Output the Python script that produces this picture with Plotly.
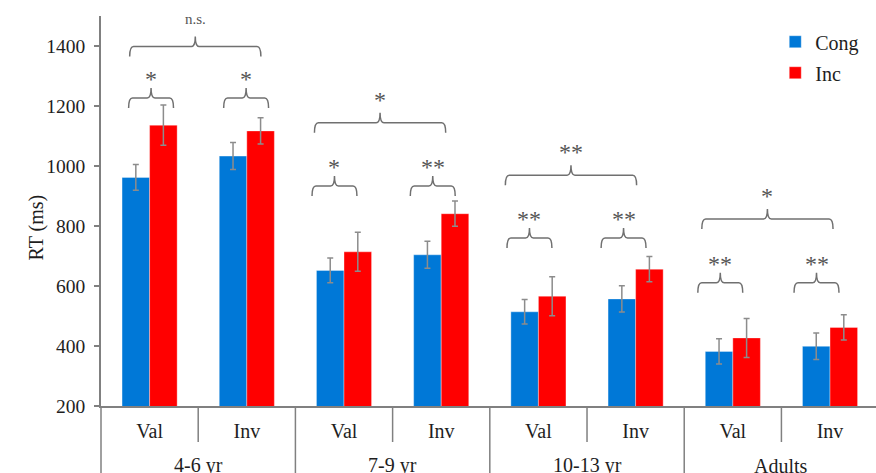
import plotly.graph_objects as go

# ---------------- data ----------------
groups = ["4-6 yr", "7-9 yr", "10-13 yr", "Adults"]
conditions = ["Val", "Inv"]
cong = [962, 1033, 652, 704, 514, 557, 382, 399]
inc = [1136, 1117, 714, 841, 566, 656, 427, 462]
cong_err = [43, 45, 41, 45, 41, 44, 42, 44]
inc_err = [67, 44, 65, 42, 65, 42, 65, 42]
pair_sig = ["*", "*", "*", "**", "**", "**", "**", "**"]
group_sig = ["n.s.", "*", "**", "*"]
yticks = [200, 400, 600, 800, 1000, 1200, 1400]

# ---------------- annotation layout (bracket placement) ----------------
pair_level = [1227, 1227, 933, 933, 760, 760, 611, 611]
pair_shift = [0.015, -0.007, -0.098, -0.087, -0.092, -0.124, -0.129, -0.139]
group_level = [1398, 1144, 969, 823]
group_shift = [-0.03, -0.129, -0.165, -0.144]

BLUE = "#0078D7"
RED = "#FF0000"
GREY = "#808080"
FONT = "Liberation Serif"
TXT = "#1e1e1e"

n_cond = len(conditions)
xs = list(range(len(groups) * n_cond))
ticktext = [c for g in groups for c in conditions]

fig = go.Figure()
fig.add_trace(go.Bar(
    x=xs, y=cong, name="Cong", legendgroup="a",
    marker=dict(color=BLUE, line=dict(color="rgba(255,255,255,0.35)", width=1)),
    error_y=dict(type="data", array=cong_err, color="#8c8c8c", thickness=1.5, width=3),
))
fig.add_trace(go.Bar(
    x=xs, y=inc, name="Inc", legendgroup="b",
    marker=dict(color=RED, line=dict(color="rgba(255,255,255,0.35)", width=1)),
    error_y=dict(type="data", array=inc_err, color="#8c8c8c", thickness=1.5, width=3),
))


def brace(xc, half, level, depth=10, rx=0.04):
    x0, x1 = xc - half, xc + half
    path = (f"M {x0},{-depth} Q {x0},0 {x0 + rx},0 L {xc - rx},0 "
            f"Q {xc},0 {xc},{depth} Q {xc},0 {xc + rx},0 "
            f"L {x1 - rx},0 Q {x1},0 {x1},{-depth}")
    fig.add_shape(type="path", path=path, xref="x", yref="y",
                  ysizemode="pixel", yanchor=level,
                  line=dict(color="#707070", width=1.5))


def sig_text(xc, level, text, size=24, shift=4):
    fig.add_annotation(x=xc, y=level, xref="x", yref="y", text=text,
                       showarrow=False, yanchor="bottom", yshift=shift,
                       font=dict(family=FONT, size=size, color="#555555"))


for i in xs:
    xc = i + pair_shift[i]
    brace(xc, 0.231, pair_level[i])
    sig_text(xc, pair_level[i], pair_sig[i])

for g in range(len(groups)):
    xc = g * n_cond + (n_cond - 1) / 2 + group_shift[g]
    brace(xc, 0.675, group_level[g])
    if group_sig[g] == "n.s.":
        sig_text(xc, group_level[g], group_sig[g], size=15, shift=18)
    else:
        sig_text(xc, group_level[g], group_sig[g], shift=8)

# dividers under x axis
for i in range(len(xs)):
    b = i + 0.5
    outer = (i + 1) % n_cond == 0
    fig.add_shape(type="line", xref="x", yref="paper", x0=b, x1=b,
                  y0=0, y1=-0.172 if outer else -0.0923,
                  line=dict(color=GREY, width=1.5))
# y-axis line continues down through label rows
fig.add_shape(type="line", xref="paper", yref="paper", x0=0, x1=0, y0=0, y1=-0.172,
              line=dict(color=GREY, width=1.5))

# group labels
for g, name in enumerate(groups):
    fig.add_annotation(x=g * n_cond + (n_cond - 1) / 2, y=-0.1538, xref="x", yref="paper",
                       text=name, showarrow=False, yanchor="middle",
                       font=dict(family=FONT, size=20, color=TXT))

# y title
fig.add_annotation(x=-0.0994, y=0.459, xref="paper", yref="paper", text="RT (ms)",
                   textangle=-90, showarrow=False,
                   font=dict(family=FONT, size=20, color=TXT))

fig.update_layout(
    width=876, height=473,
    margin=dict(l=101, r=0, t=16, b=67),
    paper_bgcolor="white", plot_bgcolor="white",
    barmode="group", bargap=0.433, bargroupgap=0,
    font=dict(family=FONT, size=20, color=TXT),
    legend=dict(x=0.87, y=0.984, xanchor="left", yanchor="top",
                font=dict(family=FONT, size=20, color=TXT),
                bgcolor="rgba(0,0,0,0)", tracegroupgap=2),
    xaxis=dict(range=[-0.5, 7.473], tickmode="array", tickvals=xs, ticktext=ticktext,
               ticks="", showline=True, linecolor=GREY, linewidth=1.5,
               showgrid=False, zeroline=False, ticklabelstandoff=6,
               tickfont=dict(family=FONT, size=20, color=TXT)),
    yaxis=dict(range=[200, 1500], tickmode="array", tickvals=yticks,
               ticks="outside", ticklen=5, tickcolor=GREY, tickwidth=1.5,
               showline=True, linecolor=GREY, linewidth=1.5,
               showgrid=False, zeroline=False, ticklabelstandoff=5,
               tickfont=dict(family=FONT, size=19.5, color=TXT)),
)

fig.write_html("out.html")
